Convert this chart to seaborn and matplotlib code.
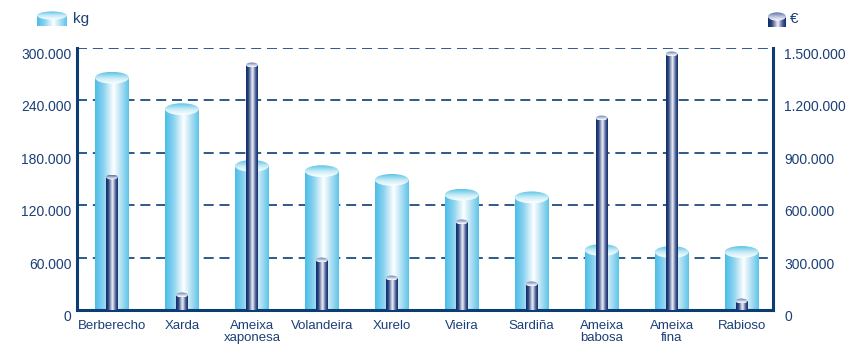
import numpy as np
import pandas as pd
import matplotlib
matplotlib.use("Agg")
import matplotlib.pyplot as plt
import seaborn as sns
from matplotlib.colors import LinearSegmentedColormap
from matplotlib.patches import Ellipse, Rectangle
from matplotlib.ticker import FuncFormatter, MultipleLocator
from matplotlib.transforms import ScaledTranslation

categories = ["Berberecho", "Xarda", "Ameixa\nxaponesa", "Volandeira", "Xurelo",
              "Vieira", "Sardiña", "Ameixa\nbabosa", "Ameixa\nfina", "Rabioso"]
kg = [266000, 230000, 165000, 159000, 149000, 132000, 129000, 68700, 66400, 66500]
eur = [761000, 86000, 1403000, 286000, 183000, 504000, 149000, 1099000, 1466000, 51500]

NAVY = "#0b3d73"
TEXT = "#1b3f78"

sns.set_style("white")
plt.rcParams["font.family"] = ["Liberation Sans", "DejaVu Sans"]

light_body = LinearSegmentedColormap.from_list(
    "lb", [(0, "#4abde8"), (0.25, "#8ad2ef"), (0.55, "#ffffff"), (0.8, "#a6dcf2"), (1, "#5cc4e9")])
light_cap = LinearSegmentedColormap.from_list("lc", [(0, "#ffffff"), (0.5, "#c6ebf7"), (1, "#5cc3e6")])
dark_body = LinearSegmentedColormap.from_list(
    "db", [(0, "#0d2d6b"), (0.2, "#2c437e"), (0.55, "#f2f4fa"), (0.8, "#51639a"), (1, "#0d2d6b")])
dark_cap = LinearSegmentedColormap.from_list("dc", [(0, "#ffffff"), (0.5, "#b9c3dc"), (1, "#5a6ea3")])

df = pd.DataFrame({"cat": categories, "kg": kg, "eur": eur})


def paint_cylinder(ax, patch, cap_h, body_cmap, cap_cmap, z):
    x, w = patch.get_x(), patch.get_width()
    top = patch.get_height()
    patch.set_facecolor("none")
    patch.set_edgecolor("none")
    hgrad = np.linspace(0, 1, 256).reshape(1, -1)
    im = ax.imshow(hgrad, cmap=body_cmap, extent=(x, x + w, 0, top), aspect="auto",
                   zorder=z, interpolation="bilinear")
    im.set_clip_path(patch)
    cap = Ellipse((x + w / 2, top), w, cap_h, fc="none", ec="none")
    ax.add_patch(cap)
    vgrad = np.linspace(0, 1, 64).reshape(-1, 1)
    im2 = ax.imshow(vgrad, cmap=cap_cmap, extent=(x, x + w, top - cap_h / 2, top + cap_h / 2),
                    aspect="auto", origin="lower", zorder=z + 0.1, interpolation="bilinear")
    im2.set_clip_path(cap)


fig = plt.figure(figsize=(8.57, 3.55), dpi=100)
ax = fig.add_axes([77 / 857, 1 - 310 / 355, 696 / 857, 262 / 355])
ax2 = ax.twinx()

sns.barplot(data=df, x="cat", y="kg", ax=ax, width=0.485, color="#5ec4e8")
sns.barplot(data=df, x="cat", y="eur", ax=ax2, width=0.17, color="#0d2d6b")

for p in list(ax.patches):
    paint_cylinder(ax, p, 13500, light_body, light_cap, 2)
for p in list(ax2.patches):
    paint_cylinder(ax2, p, 28000, dark_body, dark_cap, 3)

ax.set_xlim(-0.5, 9.45)
ax.set_ylim(0, 300000)
ax2.set_ylim(0, 1500000)

fmt = FuncFormatter(lambda v, pos: f"{int(round(v)):,}".replace(",", "."))
ax.yaxis.set_major_locator(MultipleLocator(60000))
ax2.yaxis.set_major_locator(MultipleLocator(300000))
ax.yaxis.set_major_formatter(fmt)
ax2.yaxis.set_major_formatter(fmt)

ax.set_axisbelow(True)
ax.yaxis.grid(True, color=NAVY, lw=1.2, ls=(0, (6, 3.5)))
ax.xaxis.grid(False)

for name, sp in ax.spines.items():
    sp.set_visible(name in ("left", "bottom"))
    sp.set_color(NAVY)
    sp.set_linewidth(2.2)
for name, sp in ax2.spines.items():
    sp.set_visible(name == "right")
    sp.set_color(NAVY)
    sp.set_linewidth(2.2)

ax.set_xlabel("")
ax.set_ylabel("")
ax2.set_ylabel("")
ax.set_xticks(range(len(categories)))
ax.set_xticklabels(categories)
ax.set_xticks(np.arange(0.5, len(categories) - 1, 1), minor=True)
ax.tick_params(axis="x", which="major", length=0, pad=7, labelsize=9.5, labelcolor=TEXT)
ax.tick_params(axis="x", which="minor", direction="in", length=6, width=3, color=NAVY)
ax.tick_params(axis="y", length=0, pad=4, labelsize=10, labelcolor=TEXT)
ax2.tick_params(axis="y", length=0, pad=8, labelsize=10, labelcolor=TEXT)
for t in ax.get_xticklabels():
    t.set_linespacing(1.0)


# legend icons
def icon(rect, body_cmap, cap_cmap):
    a = fig.add_axes(rect)
    a.axis("off")
    r = Rectangle((0, 0), 1, 0.7, fc="none", ec="none")
    a.add_patch(r)
    im = a.imshow(np.linspace(0, 1, 128).reshape(1, -1), cmap=body_cmap, extent=(0, 1, 0, 0.7),
                  aspect="auto")
    im.set_clip_path(r)
    e = Ellipse((0.5, 0.7), 1, 0.55, fc="none", ec="none")
    a.add_patch(e)
    im = a.imshow(np.linspace(0, 1, 64).reshape(-1, 1), cmap=cap_cmap, extent=(0, 1, 0.42, 0.98),
                  aspect="auto", origin="lower")
    im.set_clip_path(e)
    a.set_xlim(0, 1)
    a.set_ylim(0, 1)


icon([37 / 857, 1 - 26 / 355, 30 / 857, 15 / 355], light_body, light_cap)
icon([768 / 857, 1 - 27 / 355, 18 / 857, 15 / 355], dark_body, dark_cap)
fig.text(73 / 857, 1 - 19 / 355, "kg", color=TEXT, fontsize=11, va="center", ha="left")
fig.text(790 / 857, 1 - 19 / 355, "€", color=TEXT, fontsize=11, va="center", ha="left")

# tick labels sit a little below their gridline
fig.canvas.draw()
shift = ScaledTranslation(0, -4 / 72, fig.dpi_scale_trans)
for lab in ax.get_yticklabels() + ax2.get_yticklabels():
    lab.set_transform(lab.get_transform() + shift)

fig.savefig("out.png", dpi=100)
